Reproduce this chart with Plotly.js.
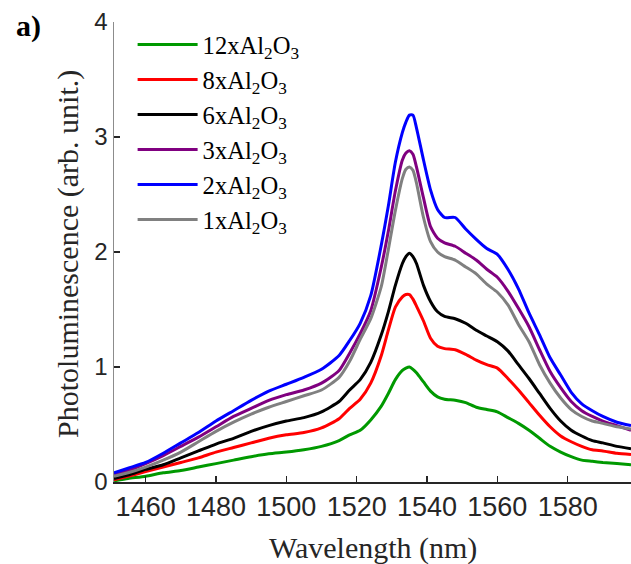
<!DOCTYPE html>
<html>
<head>
<meta charset="utf-8">
<script src="https://cdn.plot.ly/plotly-3.0.1.min.js"></script>
<style>html,body{margin:0;padding:0;background:#fff;}#chart{width:631px;height:564px;}</style>
</head>
<body>
<div id="chart"></div>
<script>
// Wavelength grid (nm)
const wavelength = [1451,1455,1460,1465,1470,1475,1480,1485,1490,1495,1500,1505,1510,1515,1518,1521,1524,1527,1529,1531,1533,1534,1535,1536,1537,1539,1541,1543,1545,1548,1551,1554,1557,1560,1563,1566,1569,1572,1575,1578,1581,1584,1587,1590,1594,1598];

// Photoluminescence (arb. unit.) per sample
const pl12x = [0.01,0.03,0.05,0.08,0.10,0.13,0.16,0.19,0.22,0.245,0.26,0.28,0.31,0.36,0.41,0.45,0.54,0.66,0.77,0.89,0.97,0.99,1.00,0.98,0.95,0.87,0.79,0.74,0.72,0.71,0.69,0.65,0.63,0.61,0.56,0.51,0.45,0.38,0.31,0.26,0.22,0.19,0.18,0.17,0.16,0.15];
const pl8x  = [0.02,0.05,0.09,0.13,0.17,0.21,0.26,0.30,0.34,0.38,0.41,0.43,0.47,0.55,0.64,0.72,0.86,1.10,1.32,1.52,1.61,1.63,1.63,1.59,1.53,1.40,1.25,1.18,1.16,1.15,1.11,1.06,1.02,0.99,0.90,0.80,0.69,0.58,0.48,0.40,0.35,0.31,0.28,0.27,0.25,0.24];
const pl6x  = [0.03,0.06,0.11,0.15,0.21,0.27,0.33,0.38,0.44,0.49,0.53,0.56,0.61,0.70,0.80,0.89,1.04,1.28,1.48,1.71,1.90,1.96,1.99,1.96,1.90,1.71,1.57,1.48,1.44,1.42,1.38,1.32,1.27,1.22,1.14,1.02,0.90,0.77,0.64,0.53,0.45,0.40,0.36,0.34,0.31,0.29];
const pl3x  = [0.07,0.10,0.16,0.23,0.31,0.39,0.48,0.57,0.64,0.71,0.76,0.80,0.86,0.97,1.12,1.29,1.49,1.87,2.18,2.53,2.80,2.86,2.88,2.85,2.74,2.47,2.22,2.12,2.08,2.05,1.99,1.93,1.85,1.78,1.66,1.51,1.35,1.15,0.96,0.82,0.70,0.62,0.57,0.53,0.49,0.45];
const pl2x  = [0.08,0.12,0.17,0.25,0.34,0.43,0.53,0.62,0.71,0.79,0.85,0.91,0.98,1.10,1.23,1.38,1.62,2.06,2.40,2.78,3.04,3.13,3.19,3.19,3.08,2.80,2.54,2.37,2.30,2.30,2.20,2.11,2.03,1.98,1.85,1.68,1.47,1.28,1.08,0.93,0.78,0.68,0.62,0.57,0.52,0.49];
const pl1x  = [0.05,0.08,0.13,0.19,0.26,0.35,0.44,0.52,0.59,0.65,0.70,0.75,0.80,0.91,1.05,1.24,1.42,1.70,2.02,2.36,2.64,2.72,2.74,2.71,2.60,2.30,2.09,2.00,1.96,1.93,1.87,1.81,1.72,1.65,1.54,1.37,1.22,1.02,0.86,0.73,0.63,0.57,0.53,0.51,0.48,0.46];

const seriesLabels = ['12xAl<sub>2</sub>O<sub>3</sub>','8xAl<sub>2</sub>O<sub>3</sub>','6xAl<sub>2</sub>O<sub>3</sub>','3xAl<sub>2</sub>O<sub>3</sub>','2xAl<sub>2</sub>O<sub>3</sub>','1xAl<sub>2</sub>O<sub>3</sub>'];
const seriesValues = [pl12x, pl8x, pl6x, pl3x, pl2x, pl1x];
const seriesColors = ['#009900','#ff0000','#000000','#800080','#0000ff','#808080'];

const xTicks = [1460,1480,1500,1520,1540,1560,1580];
const yTicks = [0,1,2,3,4];

const xTitle = 'Wavelength (nm)';
const yTitle = 'Photoluminescence (arb. unit.)';
const panelLabel = 'a)';

const SERIF = "Liberation Serif";
const SANS = "Liberation Sans";

const traces = seriesValues.map((vals, i) => ({
  x: wavelength, y: vals, type: 'scatter', mode: 'lines',
  name: seriesLabels[i],
  line: {color: seriesColors[i], width: 3, shape: 'spline', smoothing: 0.6}
}));

const layout = {
  width: 631, height: 564,
  margin: {l: 114, r: 0, t: 22, b: 82},
  paper_bgcolor: '#fff', plot_bgcolor: '#fff',
  font: {family: SERIF},
  showlegend: true,
  legend: {
    x: 0.036, y: 1, xanchor: 'left', yanchor: 'top',
    bgcolor: 'rgba(0,0,0,0)', borderwidth: 0,
    font: {family: SERIF, size: 24.6, color: '#000'},
    itemwidth: 60, tracegroupgap: 0
  },
  xaxis: {
    range: [1451, 1598], tickvals: xTicks, ticktext: xTicks.map(String),
    ticks: 'inside', ticklen: 6, tickwidth: 1.5, tickcolor: '#262626',
    showline: true, linecolor: '#262626', linewidth: 1.5, mirror: false,
    showgrid: false, zeroline: false,
    tickfont: {family: SANS, size: 27, color: '#262626'}
  },
  yaxis: {
    range: [0, 4], tickvals: yTicks, ticktext: yTicks.map(String),
    ticks: 'inside', ticklen: 6, tickwidth: 1.5, tickcolor: '#262626',
    showline: true, linecolor: '#8c8c8c', linewidth: 1.5,
    showgrid: false, zeroline: false,
    tickfont: {family: SANS, size: 24, color: '#262626'}
  },
  annotations: [
    {text: xTitle, xref: 'paper', yref: 'paper', x: 0.5, y: -0.1435,
     xanchor: 'center', yanchor: 'middle', showarrow: false,
     font: {family: SERIF, size: 30, color: '#262626'}},
    {text: yTitle, xref: 'paper', yref: 'paper', x: -0.089, y: 0.4957, textangle: -90,
     xanchor: 'center', yanchor: 'middle', showarrow: false,
     font: {family: SERIF, size: 30, color: '#262626'}},
    {text: '<b>' + panelLabel + '</b>', xref: 'paper', yref: 'paper', x: -0.193, y: 0.991,
     xanchor: 'left', yanchor: 'middle', showarrow: false,
     font: {family: SERIF, size: 30, color: '#000'}}
  ]
};

Plotly.newPlot('chart', traces, layout, {displayModeBar: false, staticPlot: true});
</script>
</body>
</html>
